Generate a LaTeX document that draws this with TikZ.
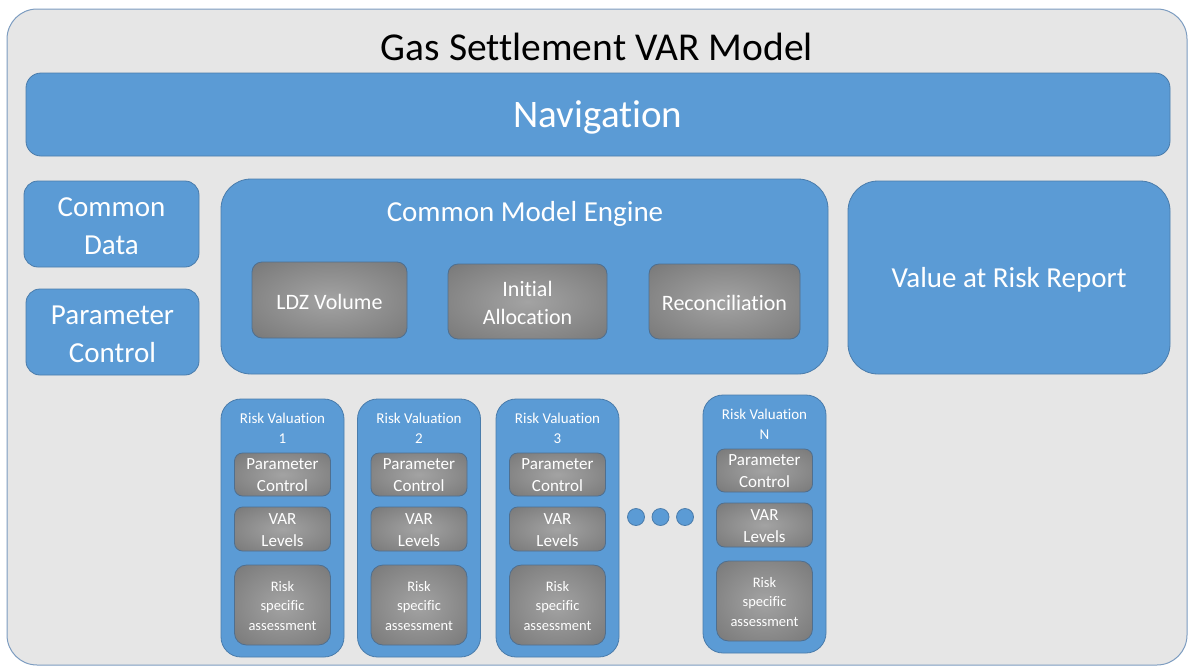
\documentclass[tikz,border=0pt]{standalone}
\usepackage{fontspec}
\setmainfont[Ligatures=NoCommon]{Carlito}
\begin{document}
\begin{tikzpicture}[x=1pt,y=-1pt,
  frame/.style={draw=frameblue, line width=1pt, fill=panel, rounded corners=30pt},
  bluebox/.style={draw=edgeblue, line width=0.8pt, fill=boxblue, text=white, align=center, inner sep=0pt},
  greybox/.style={draw=edgegrey, line width=0.8pt, shading=greyglow,
    text=white, align=center, inner sep=0pt, rounded corners=10pt},
  dot/.style={circle, draw=edgeblue, line width=0.8pt, fill=boxblue, minimum size=17pt, inner sep=0pt},
  label/.style={text=white, align=center, inner sep=0pt}
]
\definecolor{panel}{HTML}{E6E6E6}
\definecolor{frameblue}{HTML}{7C9CC0}
\definecolor{boxblue}{HTML}{5B9BD5}
\definecolor{edgeblue}{HTML}{4A7CAB}
\definecolor{edgegrey}{HTML}{4F6F8F}
\pgfdeclareradialshading{greyglow}{\pgfpoint{0bp}{0bp}}{%
  color(0bp)=(black!36); color(30bp)=(black!50); color(50bp)=(black!60)}

\useasboundingbox (0,0) rectangle (1191,667);

% outer frame and title
\node[frame, minimum width=1180pt, minimum height=656pt, inner sep=0pt] (frame) at (597,337) {};
\node[inner sep=0pt, font=\fontsize{39.5}{44}\selectfont] (title) at (597,47) {Gas Settlement VAR Model};

% navigation bar
\node[bluebox, rounded corners=15pt, minimum width=1144pt, minimum height=83pt] (nav) at (598,114.5) {};
\node[label, font=\fontsize{39}{44}\selectfont] (navt) at (598,117) {Navigation};

% left column
\node[bluebox, rounded corners=14pt, minimum width=175pt, minimum height=86pt] (cdata) at (111.5,224) {};
\node[label, font=\fontsize{29}{38}\selectfont] (cdatat) at (111.5,226) {Common\\Data};
\node[bluebox, rounded corners=14pt, minimum width=173pt, minimum height=86pt] (pctrl) at (112.5,332) {};
\node[label, font=\fontsize{29}{38}\selectfont] (pctrlt) at (112.5,334) {Parameter\\Control};

% model engine
\node[bluebox, rounded corners=30pt, minimum width=607pt, minimum height=195pt] (engine) at (524.5,276.5) {};
\node[label, font=\fontsize{29}{34}\selectfont] (enginet) at (525,214) {Common Model Engine};
\node[greybox, minimum width=155pt, minimum height=76pt] (ldz) at (329.5,300) {};
\node[label, font=\fontsize{22}{28}\selectfont] (ldzt) at (329.5,301.5) {LDZ Volume};
\node[greybox, minimum width=159pt, minimum height=75pt] (alloc) at (527.5,301.5) {};
\node[label, font=\fontsize{22}{28}\selectfont] (alloct) at (527.5,303) {Initial\\Allocation};
\node[greybox, minimum width=151pt, minimum height=75pt] (recon) at (724.5,301.5) {};
\node[label, font=\fontsize{22}{28}\selectfont] (recont) at (724.5,303) {Reconciliation};

% report
\node[bluebox, rounded corners=30pt, minimum width=322pt, minimum height=193pt] (var) at (1009,277.5) {};
\node[label, font=\fontsize{29}{34}\selectfont] (vart) at (1009,280) {Value at Risk Report};

% risk valuation columns
\foreach \n/\cx/\top in {1/282.5/399, 2/419/399, 3/557.5/399, N/764.5/395}{
  \node[bluebox, rounded corners=20pt, minimum width=123pt, minimum height=258pt] (rv\n) at (\cx,\top+129) {};
  \node[label, font=\fontsize{15}{20}\selectfont] (rvt\n) at (\cx,\top+29) {Risk Valuation\\\n};
  \node[greybox, rounded corners=8pt, minimum width=96pt, minimum height=43pt] (pc\n) at (\cx,\top+75.5) {};
  \node[label, font=\fontsize{17}{22}\selectfont] (pct\n) at (\cx,\top+76.5) {Parameter\\Control};
  \node[greybox, rounded corners=8pt, minimum width=96pt, minimum height=44pt] (vl\n) at (\cx,\top+130) {};
  \node[label, font=\fontsize{17}{22}\selectfont] (vlt\n) at (\cx,\top+131) {VAR\\Levels};
  \node[greybox, rounded corners=12pt, minimum width=96pt, minimum height=80pt] (rs\n) at (\cx,\top+206) {};
  \node[label, font=\fontsize{14.5}{19.5}\selectfont] (rst\n) at (\cx,\top+207) {Risk\\specific\\assessment};
}

% ellipsis between columns
\node[dot] (d1) at (636,517) {};
\node[dot] (d2) at (660.5,517) {};
\node[dot] (d3) at (685,517) {};
\end{tikzpicture}
\end{document}
